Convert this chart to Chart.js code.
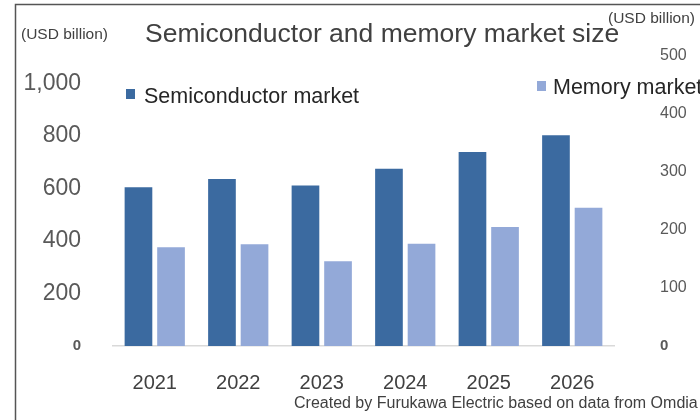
<!DOCTYPE html>
<html>
<head>
<meta charset="utf-8">
<script src="https://cdn.jsdelivr.net/npm/chart.js@4/dist/chart.umd.min.js"></script>
<style>
  html, body { margin: 0; padding: 0; background: #fff; }
  #wrap { position: relative; width: 700px; height: 420px; }
</style>
</head>
<body>
<div id="wrap"><canvas id="chart" width="700" height="420"></canvas></div>
<script>
const years = ['2021', '2022', '2023', '2024', '2025', '2026'];
const semiconductor = [605, 636, 611, 675, 739, 803];
const memory = [170, 175, 146, 176, 205, 238];
const leftTicks = [0, 200, 400, 600, 800, 1000];
const rightTicks = [0, 100, 200, 300, 400, 500];

const SEMI_COLOR = '#3b6aa0';
const MEM_COLOR = '#93a9d8';
const FONT = '"Liberation Sans", Arial, sans-serif';

// texts, legend and frame drawn on top of the chart
const decorations = {
  id: 'decorations',
  afterDraw(chart) {
    const ctx = chart.ctx;
    ctx.save();
    // frame
    ctx.strokeStyle = '#555';
    ctx.lineWidth = 1.5;
    ctx.beginPath();
    ctx.moveTo(15.5, 420);
    ctx.lineTo(15.5, 4.5);
    ctx.lineTo(700, 4.5);
    ctx.stroke();

    ctx.textBaseline = 'middle';
    ctx.textAlign = 'left';
    ctx.fillStyle = '#404040';
    ctx.font = '26.5px ' + FONT;
    ctx.fillText('Semiconductor and memory market size', 145, 35);

    ctx.fillStyle = '#404040';
    ctx.font = '15.5px ' + FONT;
    ctx.fillText('(USD billion)', 21, 35);
    ctx.fillText('(USD billion)', 608, 19);

    // legend
    ctx.fillStyle = SEMI_COLOR;
    ctx.fillRect(126, 89, 9, 10);
    ctx.fillStyle = MEM_COLOR;
    ctx.fillRect(537, 81, 9, 10);
    ctx.fillStyle = '#262626';
    ctx.font = '21.5px ' + FONT;
    ctx.fillText('Semiconductor market', 144, 97);
    ctx.fillText('Memory market', 553, 88);

    ctx.fillStyle = '#404040';
    ctx.font = '16px ' + FONT;
    ctx.fillText('Created by Furukawa Electric based on data from Omdia', 294, 404);
    ctx.restore();
  }
};

const tickFont = (big) => (c) =>
  c.tick && c.tick.value === 0
    ? {family: FONT, size: 15, weight: 'bold'}
    : {family: FONT, size: big};

new Chart(document.getElementById('chart'), {
  type: 'bar',
  data: {
    labels: years,
    datasets: [
      {
        label: 'Semiconductor market',
        data: semiconductor,
        backgroundColor: SEMI_COLOR,
        yAxisID: 'y',
        barPercentage: 0.85,
        categoryPercentage: 0.78,
      },
      {
        label: 'Memory market',
        data: memory,
        backgroundColor: MEM_COLOR,
        yAxisID: 'y1',
        barPercentage: 0.85,
        categoryPercentage: 0.78,
      },
    ],
  },
  options: {
    responsive: false,
    animation: false,
    layout: {padding: {top: 55, left: 0, right: 0, bottom: 0}},
    plugins: {
      legend: {display: false},
      tooltip: {enabled: false},
    },
    scales: {
      x: {
        grid: {display: false, drawTicks: false},
        border: {display: true, color: '#d9d9d9', width: 1.5},
        ticks: {
          color: '#404040',
          font: {family: FONT, size: 20},
          padding: 25,
        },
        afterFit(scale) { scale.height = 74; },
      },
      y: {
        position: 'left',
        min: 0,
        max: 1106,
        grid: {display: false, drawTicks: false},
        border: {display: false},
        afterBuildTicks(scale) {
          scale.ticks = leftTicks.map((v) => ({value: v}));
        },
        ticks: {
          color: '#595959',
          padding: 32,
          font: tickFont(23),
          callback: (v) => v.toLocaleString('en-US'),
        },
        afterFit(scale) { scale.width = 113; },
      },
      y1: {
        position: 'right',
        min: 0,
        max: 500,
        grid: {display: false, drawTicks: false},
        border: {display: false},
        afterBuildTicks(scale) {
          scale.ticks = rightTicks.map((v) => ({value: v}));
        },
        ticks: {
          color: '#595959',
          padding: 46,
          font: tickFont(16),
        },
        afterFit(scale) { scale.width = 86; },
      },
    },
  },
  plugins: [decorations],
});
</script>
</body>
</html>
